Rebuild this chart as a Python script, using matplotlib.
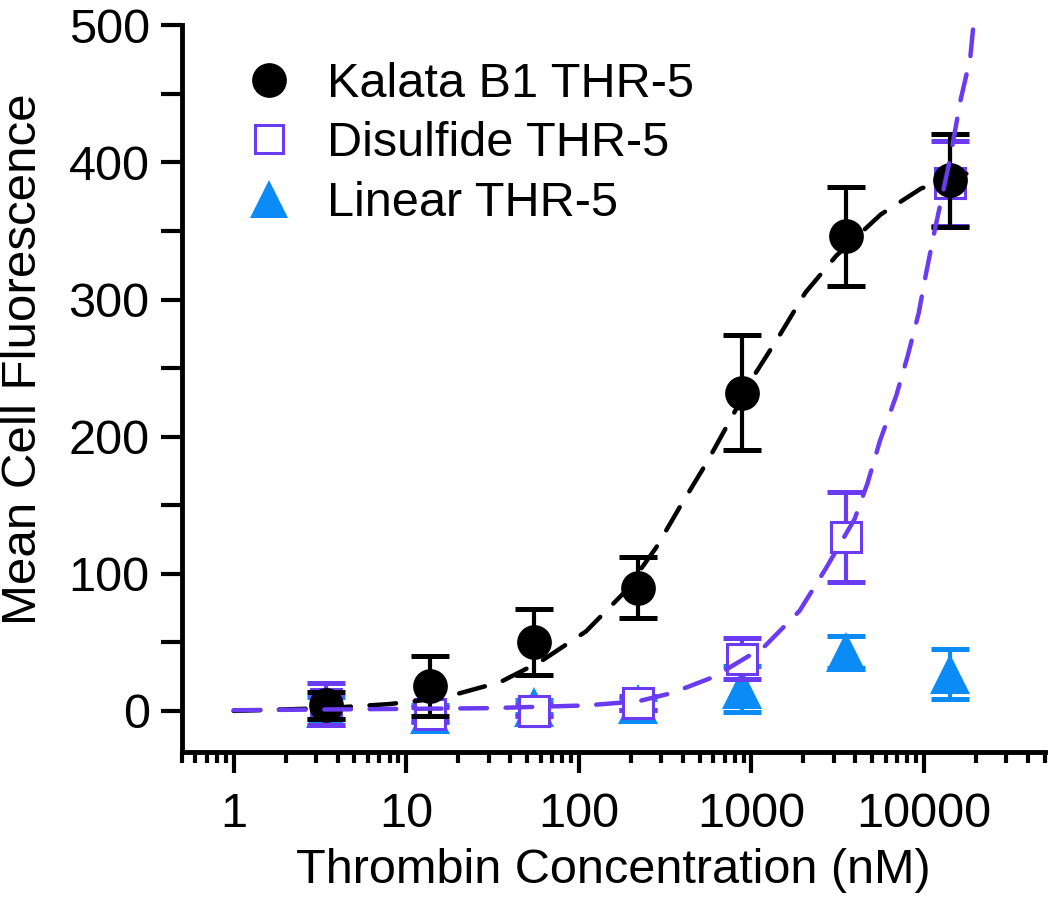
import matplotlib
matplotlib.use("Agg")
import matplotlib.pyplot as plt
from matplotlib.lines import Line2D
from matplotlib.ticker import FixedLocator, FixedFormatter, LogLocator, NullFormatter, MultipleLocator

plt.rcParams['font.family'] = ['Liberation Sans', 'DejaVu Sans']

# ---- data ----
conc = [3.43, 13.7, 54.9, 220, 878, 3513, 14050]

kalata_y = [4, 18, 50, 90, 232, 346, 387]
kalata_err = [10, 22, 24, 22, 42, 36, 34]

disulfide_y = [5, -2, 0, 6, 38, 127, 385]
disulfide_err = [15, 5, 4, 5, 15, 33, 31]

linear_y = [2, -2, 3, 5, 16, 43, 27]
linear_err = [8, 6, 5, 4, 17, 12, 18]

# fitted dashed curves
kalata_fit_x = [1, 3.4, 8, 15, 18, 35, 60, 110, 182, 280, 390, 550, 745, 1040, 1440,
                2050, 3100, 5600, 9600, 14000, 18800, 21000]
kalata_fit_y = [0, 2, 5, 9, 11, 21, 36, 58, 86, 119, 150, 181, 211, 245, 273,
                305, 332, 362, 381, 388, 393, 394]

disulfide_fit_x = [1, 3, 10, 30, 110, 220, 345, 610, 1190, 1900, 2700, 3960, 4700, 5550,
                   6900, 8000, 9300, 10300, 11500, 14000, 16300, 18500, 19300]
disulfide_fit_y = [0.5, 1, 1.5, 2, 4, 7, 13, 25, 47, 73, 104, 140, 166, 197,
                   230, 258, 290, 320, 350, 400, 446, 476, 500]

labels = ["Kalata B1 THR-5", "Disulfide THR-5", "Linear THR-5"]
xticks = [1, 10, 100, 1000, 10000]
xticklabels = ["1", "10", "100", "1000", "10000"]
yticks = [0, 100, 200, 300, 400, 500]

BLACK = "#000000"
PURPLE = "#6A3BF0"
BLUE = "#0A8BF5"

fig = plt.figure(figsize=(10.5, 9.05), dpi=100)
ax = fig.add_axes([0.173, 0.169, 0.822, 0.803])

ekw = dict(elinewidth=3.0, capthick=3.6, capsize=14, linestyle='none', marker='none')

# linear
ax.errorbar(conc, linear_y, yerr=linear_err, ecolor=BLUE, zorder=3, **ekw)
ax.plot(conc, linear_y, linestyle='none', marker='^', markersize=29, color=BLUE,
        markeredgewidth=0, zorder=3.1)
# disulfide
ax.errorbar(conc, disulfide_y, yerr=disulfide_err, ecolor=PURPLE, zorder=4, **ekw)
ax.plot(conc, disulfide_y, linestyle='none', marker='s', markersize=21,
        markerfacecolor='white', markeredgecolor=PURPLE, markeredgewidth=2.2, zorder=4.1)
# kalata
ax.errorbar(conc, kalata_y, yerr=kalata_err, ecolor=BLACK, zorder=5, **ekw)
ax.plot(conc, kalata_y, linestyle='none', marker='o', markersize=25, color=BLACK,
        markeredgewidth=0, zorder=5.1)

# fit curves
ax.plot(kalata_fit_x, kalata_fit_y, color=BLACK, lw=3.2, dashes=(6, 4.2),
        dash_capstyle='round', zorder=6)
ax.plot(disulfide_fit_x, disulfide_fit_y, color=PURPLE, lw=3.2, dashes=(6, 4.2),
        dash_capstyle='round', zorder=6)

ax.set_xscale('log')
ax.set_xlim(0.5, 50000)
ax.set_ylim(-30, 500)

ax.xaxis.set_major_locator(FixedLocator(xticks))
ax.xaxis.set_major_formatter(FixedFormatter(xticklabels))
ax.xaxis.set_minor_locator(LogLocator(base=10, subs=[2, 3, 4, 5, 6, 7, 8, 9], numticks=20))
ax.xaxis.set_minor_formatter(NullFormatter())
ax.yaxis.set_major_locator(FixedLocator(yticks))
ax.yaxis.set_minor_locator(MultipleLocator(50))

for s in ['top', 'right']:
    ax.spines[s].set_visible(False)
for s in ['left', 'bottom']:
    ax.spines[s].set_linewidth(3.5)

ax.tick_params(axis='both', which='major', direction='out', width=3, labelsize=35, length=15)
ax.tick_params(axis='x', which='minor', direction='out', width=3, length=8)
ax.tick_params(axis='y', which='minor', direction='out', width=3, length=15)
ax.tick_params(axis='x', which='major', pad=14)
ax.tick_params(axis='y', which='major', pad=8)

ax.set_xlabel("Thrombin Concentration (nM)", fontsize=35, labelpad=8)
ax.set_ylabel("Mean Cell Fluorescence", fontsize=35.5)
ax.yaxis.set_label_coords(-0.157, 0.54)

handles = [
    Line2D([], [], linestyle='none', marker='o', markersize=25, color=BLACK, markeredgewidth=0),
    Line2D([], [], linestyle='none', marker='s', markersize=20, markerfacecolor='white',
           markeredgecolor=PURPLE, markeredgewidth=2.2),
    Line2D([], [], linestyle='none', marker='^', markersize=28, color=BLUE, markeredgewidth=0),
]
ax.legend(handles, labels, loc='upper left', bbox_to_anchor=(0.0735, 0.950), frameon=False,
          fontsize=35, handlelength=1.0, handletextpad=0.69, labelspacing=0.3,
          borderaxespad=0, borderpad=0)

fig.savefig("out.png", dpi=100)
